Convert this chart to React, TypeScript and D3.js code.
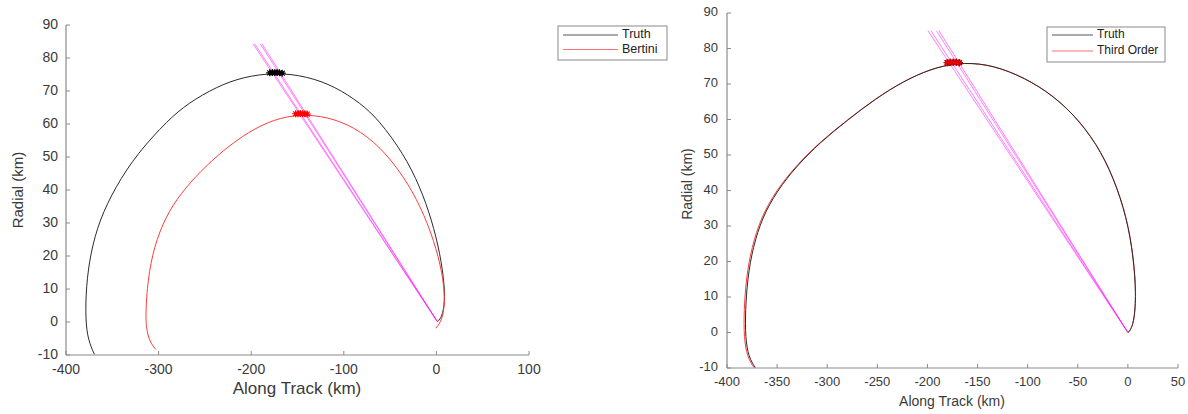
import React from "react";
import * as d3 from "d3";

type P = [number, number];

// ---------- data (along track km, radial km) ----------
const truthLeft: P[] = [
  [-369.3, -9.8], [-376.1, -5.5], [-379.0, 0.6], [-378.3, 10.7], [-373.6, 20.8],
  [-363.9, 30.9], [-346.5, 41.0], [-323.0, 51.1], [-289.8, 61.2], [-268.1, 66.3],
  [-237.4, 71.3], [-208.5, 74.3], [-174.1, 75.6], [-139.8, 74.5], [-109.1, 71.3],
  [-81.9, 66.3], [-62.1, 61.2], [-35.7, 51.1], [-17.6, 41.0], [-5.0, 30.9],
  [4.0, 20.8], [9.1, 10.7], [8.7, 4.5], [4.8, 1.0], [1.1, 0.1],
];
const bertiniLeft: P[] = [
  [-303.1, -8.3], [-309.6, -6.0], [-313.3, -2.0], [-314.0, 2.6], [-311.8, 12.7],
  [-305.0, 22.8], [-292.5, 31.9], [-276.0, 39.0], [-255.4, 45.5], [-230.1, 52.1],
  [-203.0, 57.6], [-175.9, 61.4], [-147.0, 63.0], [-118.1, 62.2], [-89.2, 59.2],
  [-60.3, 53.1], [-35.0, 44.0], [-17.0, 35.0], [-2.5, 24.7], [6.6, 14.7], [9.5, 6.7],
  [6.6, 0.6], [-0.7, -1.9],
];
const raysLeftOrigin: P = [0.8, 0.2];
const raysLeftTops: P[] = [[-198, 84.3], [-196.3, 84.3], [-190.2, 84.3], [-188.4, 84.3]];
const starsTruthLeft: P[] = [[-180, 75.5], [-177, 75.6], [-174.5, 75.6], [-172, 75.6], [-169.5, 75.5], [-166.5, 75.4]];
const starsBertiniLeft: P[] = [[-152, 63.1], [-149.5, 63.1], [-147, 63.2], [-144.5, 63.1], [-142, 63.1], [-139.5, 63]];

const truthRight: P[] = [
  [-371.7, -9.9], [-378.4, -7.0], [-381.7, -1.4], [-381.7, 6.1], [-379.4, 15.5],
  [-374.1, 24.0], [-364.8, 32.4], [-350.1, 39.9], [-330.2, 47.0], [-306.9, 53.6],
  [-280.3, 59.7], [-252.1, 65.8], [-223.8, 70.8], [-197.2, 74.2], [-170.6, 76.0],
  [-140.7, 75.7], [-110.8, 72.8], [-80.9, 68.1], [-54.3, 61.6], [-31.0, 53.1],
  [-14.4, 43.7], [-1.1, 32.4], [5.6, 21.1], [8.2, 10.8], [6.3, 3.3], [2.3, 0.5], [0, 0],
];
const thirdOrderRight: P[] = [
  [-373.0, -9.9], [-379.8, -7.0], [-383.1, -1.4], [-383.1, 6.1], [-380.8, 15.5],
  [-375.4, 24.0], [-366.0, 32.4], [-351.2, 39.9], [-331.1, 47.0], [-307.6, 53.6],
  [-280.8, 59.7], [-252.5, 65.8], [-224.0, 70.8], [-197.3, 74.2], [-170.6, 76.0],
  [-140.6, 75.7], [-110.6, 72.8], [-80.7, 68.1], [-54.1, 61.6], [-30.8, 53.1],
  [-14.2, 43.7], [-0.9, 32.4], [5.8, 21.1], [8.4, 10.8], [6.4, 3.3], [2.4, 0.5], [0.1, 0],
];
const raysRightOrigin: P = [0, 0];
const raysRightTops: P[] = [[-199.5, 85], [-196.5, 85], [-191, 85], [-188.5, 85]];
const starsTruthRight: P[] = [[-180, 76], [-177, 76.1], [-174, 76.1], [-171, 76.1], [-168, 76]];
const starsThirdRight: P[] = [[-180.5, 76], [-177.5, 76.1], [-174.5, 76.1], [-171.5, 76.1], [-168.5, 76]];

const yTicks = [-10, 0, 10, 20, 30, 40, 50, 60, 70, 80, 90];
const xTicksLeft = [-400, -300, -200, -100, 0, 100];
const xTicksRight = [-400, -350, -300, -250, -200, -150, -100, -50, 0, 50];

const legendLeft = ["Truth", "Bertini"];
const legendRight = ["Truth", "Third Order"];

const FONT = "'Liberation Sans', Arial, sans-serif";
const AXIS = "#8a8a8a";
const TXT = "#3a3a3a";
const BLACK = "#2a2a2a";
const RED = "#ff3b3b";
const MAG = "#ff00ff";

function Star({ x, y, r, color }: { x: number; y: number; r: number; color: string }) {
  const d = r * 0.7;
  return (
    <path
      d={`M${x - r},${y}L${x + r},${y}M${x},${y - r}L${x},${y + r}M${x - d},${y - d}L${x + d},${y + d}M${x - d},${y + d}L${x + d},${y - d}`}
      stroke={color}
      strokeWidth={1.2}
      fill="none"
    />
  );
}

interface LegendSpec {
  x: number; y: number; w: number; h: number;
  labels: string[]; colors: string[];
  lineLen: number; font: number; row0: number; rowGap: number;
}

interface PanelProps {
  xDomain: [number, number];
  xRange: [number, number];
  yRange: [number, number];
  xTicks: number[];
  series: { data: P[]; color: string; width: number }[];
  rayOrigin: P;
  rayTops: P[];
  stars: { data: P[]; color: string }[];
  tickFont: number;
  xLabel: { x: number; y: number; size: number };
  yLabel: { x: number; y: number; size: number };
  xTickY: number;
  yTickX: number;
  legend: LegendSpec;
}

function Panel(p: PanelProps) {
  const x = d3.scaleLinear().domain(p.xDomain).range(p.xRange);
  const y = d3.scaleLinear().domain([-10, 90]).range(p.yRange);
  const line = d3
    .line<P>()
    .x((d) => x(d[0]))
    .y((d) => y(d[1]))
    .curve(d3.curveBasis);
  const [x0, x1] = p.xRange;
  const [yb, yt] = p.yRange;
  const L = p.legend;
  return (
    <g fontFamily={FONT}>
      {p.rayTops.map((t, i) => (
        <line
          key={"r" + i}
          x1={x(p.rayOrigin[0])}
          y1={y(p.rayOrigin[1])}
          x2={x(t[0])}
          y2={y(t[1])}
          stroke={MAG}
          strokeOpacity={0.5}
          strokeWidth={1}
        />
      ))}
      {p.series.map((s, i) => (
        <path key={"s" + i} d={line(s.data) || ""} fill="none" stroke={s.color} strokeWidth={s.width} />
      ))}
      {p.stars.map((s, i) =>
        s.data.map((d, j) => <Star key={`st${i}-${j}`} x={x(d[0])} y={y(d[1])} r={3.5} color={s.color} />)
      )}
      <line x1={x0} y1={yb} x2={x1} y2={yb} stroke={AXIS} strokeWidth={1.2} />
      <line x1={x0} y1={yb} x2={x0} y2={yt} stroke={AXIS} strokeWidth={1.2} />
      {p.xTicks.map((t) => (
        <g key={"xt" + t}>
          <line x1={x(t)} x2={x(t)} y1={yb} y2={yb - 4} stroke={AXIS} />
          <text x={x(t)} y={p.xTickY} textAnchor="middle" dominantBaseline="middle" fontSize={p.tickFont} fill={TXT}>
            {t}
          </text>
        </g>
      ))}
      {yTicks.map((t) => (
        <g key={"yt" + t}>
          <line x1={x0} x2={x0 + 4} y1={y(t)} y2={y(t)} stroke={AXIS} />
          <text x={p.yTickX} y={y(t)} textAnchor="end" dominantBaseline="middle" fontSize={p.tickFont} fill={TXT}>
            {t}
          </text>
        </g>
      ))}
      <text
        x={p.xLabel.x}
        y={p.xLabel.y}
        textAnchor="middle"
        dominantBaseline="middle"
        fontSize={p.xLabel.size}
        fill={TXT}
      >
        Along Track (km)
      </text>
      <text
        transform={`translate(${p.yLabel.x},${p.yLabel.y}) rotate(-90)`}
        textAnchor="middle"
        dominantBaseline="middle"
        fontSize={p.yLabel.size}
        fill={TXT}
      >
        Radial (km)
      </text>
      <rect x={L.x} y={L.y} width={L.w} height={L.h} fill="#fff" stroke={AXIS} strokeWidth={1} />
      {L.labels.map((lab, i) => {
        const ly = L.y + L.row0 + i * L.rowGap;
        return (
          <g key={"lg" + i}>
            <line x1={L.x + 5} x2={L.x + 5 + L.lineLen} y1={ly} y2={ly} stroke={L.colors[i]} strokeWidth={1} />
            <text x={L.x + 9 + L.lineLen} y={ly} dominantBaseline="middle" fontSize={L.font} fill="#222">
              {lab}
            </text>
          </g>
        );
      })}
    </g>
  );
}

export default function App() {
  return (
    <svg width={1188} height={414} style={{ position: "absolute", left: 0, top: 0, background: "#fff" }}>
      <rect width={1188} height={414} fill="#fff" />
      <Panel
        xDomain={[-400, 100]}
        xRange={[66, 529]}
        yRange={[355, 25]}
        xTicks={xTicksLeft}
        series={[
          { data: truthLeft, color: BLACK, width: 1 },
          { data: bertiniLeft, color: RED, width: 1 },
        ]}
        rayOrigin={raysLeftOrigin}
        rayTops={raysLeftTops}
        stars={[
          { data: starsTruthLeft, color: "#000" },
          { data: starsBertiniLeft, color: "#ff0000" },
        ]}
        tickFont={14}
        xTickY={370}
        yTickX={58}
        xLabel={{ x: 297, y: 390, size: 17 }}
        yLabel={{ x: 19, y: 190, size: 15 }}
        legend={{
          x: 558, y: 26, w: 109, h: 34, labels: legendLeft, colors: ["#555", "#ff7070"],
          lineLen: 55, font: 12.5, row0: 9, rowGap: 14.5,
        }}
      />
      <Panel
        xDomain={[-400, 50]}
        xRange={[727, 1178]}
        yRange={[368, 13]}
        xTicks={xTicksRight}
        series={[
          { data: thirdOrderRight, color: RED, width: 1 },
          { data: truthRight, color: BLACK, width: 1 },
        ]}
        rayOrigin={raysRightOrigin}
        rayTops={raysRightTops}
        stars={[
          { data: starsTruthRight, color: "#300" },
          { data: starsThirdRight, color: "#e00000" },
        ]}
        tickFont={13}
        xTickY={383}
        yTickX={718}
        xLabel={{ x: 952, y: 402, size: 14 }}
        yLabel={{ x: 688, y: 184, size: 14 }}
        legend={{
          x: 1047, y: 27, w: 118, h: 35, labels: legendRight, colors: ["#555", "#ff7070"],
          lineLen: 41, font: 12, row0: 8, rowGap: 16,
        }}
      />
    </svg>
  );
}
